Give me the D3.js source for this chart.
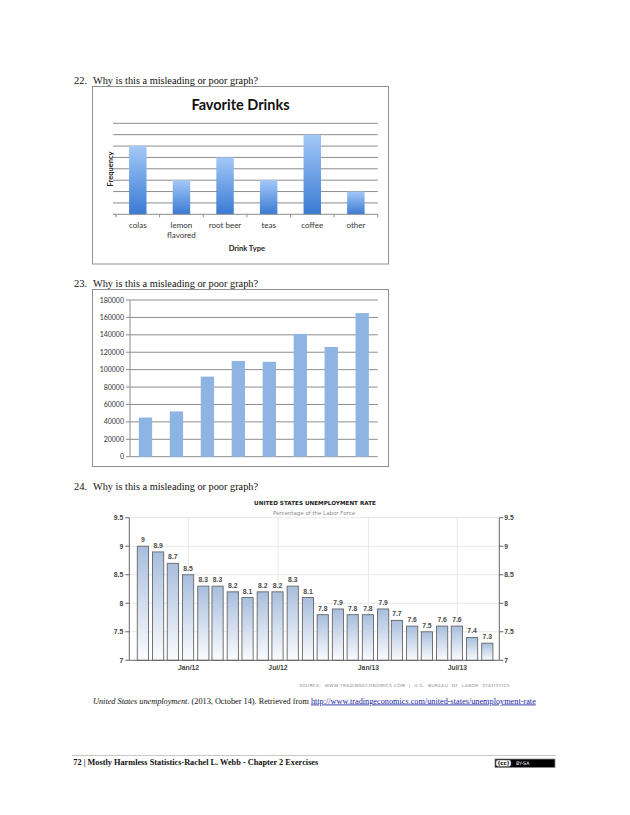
<!DOCTYPE html>
<html>
<head>
<meta charset="utf-8">
<script src="https://cdn.jsdelivr.net/npm/d3@7"></script>
<style>
  html, body { margin: 0; padding: 0; background: #fff; }
  svg { display: block; }
</style>
</head>
<body>
<div id="page"></div>
<script>
// Question 22 - favorite drinks
const drinkTypes = ["colas", "lemon flavored", "root beer", "teas", "coffee", "other"];
const drinkFreq = [6, 3, 5, 3, 7, 2];
const freqGrid = [0, 1, 2, 3, 4, 5, 6, 7, 8];

// Question 23 - unlabeled bars
const q23Values = [45000, 52000, 92000, 110000, 109000, 141000, 126000, 165000];
const q23Ticks = [0, 20000, 40000, 60000, 80000, 100000, 120000, 140000, 160000, 180000];

// Question 24 - US unemployment rate (month, value)
const rateMonths = ["2011-09", "2011-10", "2011-11", "2011-12", "2012-01", "2012-02", "2012-03", "2012-04",
                    "2012-05", "2012-06", "2012-07", "2012-08", "2012-09", "2012-10", "2012-11", "2012-12",
                    "2013-01", "2013-02", "2013-03", "2013-04", "2013-05", "2013-06", "2013-07", "2013-08"];
const rateValues = [9, 8.9, 8.7, 8.5, 8.3, 8.3, 8.2, 8.1, 8.2, 8.2, 8.3, 8.1,
                    7.8, 7.9, 7.8, 7.8, 7.9, 7.7, 7.6, 7.5, 7.6, 7.6, 7.4, 7.3];
const rateTicks = [7, 7.5, 8, 8.5, 9, 9.5];
const rateTickDates = ["2012-01-01", "2012-07-01", "2013-01-01", "2013-07-01"];
const rateTickLabels = ["Jan/12", "Jul/12", "Jan/13", "Jul/13"];

const serif = "'Liberation Serif', 'Times New Roman', serif";
const sans = "Lato, 'Open Sans', sans-serif";

const svg = d3.select("#page").append("svg")
    .attr("width", 630).attr("height", 815);

// Ajusta el tamaño de letra para que el texto ocupe el ancho dado
function fitWidth(sel, width) {
    const w = sel.node().getComputedTextLength();
    const size = parseFloat(sel.style("font-size"));
    if (w > 0) sel.style("font-size", (size * width / w).toFixed(2) + "px");
    return sel;
}

const defs = svg.append("defs");
const g1 = defs.append("linearGradient").attr("id", "grad1").attr("x1", 0).attr("y1", 0).attr("x2", 0).attr("y2", 1);
g1.append("stop").attr("offset", "0%").attr("stop-color", "#a3c8f8");
g1.append("stop").attr("offset", "100%").attr("stop-color", "#3a7ad3");
const g3 = defs.append("linearGradient").attr("id", "grad3").attr("x1", 0).attr("y1", 0).attr("x2", 0).attr("y2", 1);
g3.append("stop").attr("offset", "0%").attr("stop-color", "#a8bedd");
g3.append("stop").attr("offset", "100%").attr("stop-color", "#fbfcfe");

// Texto de las preguntas
function question(num, y) {
    svg.append("text").attr("x", 74).attr("y", y).text(num + ".")
        .style("font-family", serif).style("font-size", "10.5px").attr("fill", "#111");
    const t = svg.append("text").attr("x", 93).attr("y", y).text("Why is this a misleading or poor graph?")
        .style("font-family", serif).style("font-size", "10.5px").attr("fill", "#111");
    fitWidth(t, 165);
}
question(22, 84);
question(23, 287);
question(24, 490);

// ---------- Grafico 1 ----------
svg.append("rect").attr("x", 92.5).attr("y", 86.5).attr("width", 296).attr("height", 177.5)
    .attr("fill", "#fff").attr("stroke", "#8f8f8f");

svg.append("text").attr("x", 240.5).attr("y", 110).attr("text-anchor", "middle")
    .text("Favorite Drinks").style("font-family", sans).style("font-weight", 700)
    .style("font-size", "14.5px").attr("fill", "#111");

const x1 = d3.scaleBand().domain(drinkTypes).range([116, 377.7]).paddingInner(0.6).paddingOuter(0.3);
const y1 = d3.scaleLinear().domain([0, 8]).range([214.3, 123.3]);

svg.append("g").selectAll("line").data(freqGrid.slice(1)).join("line")
    .attr("x1", 116).attr("x2", 377.7)
    .attr("y1", d => y1(d)).attr("y2", d => y1(d))
    .attr("stroke", "#8c8c8c").attr("stroke-width", 1);
svg.append("g").selectAll("line").data(freqGrid).join("line")
    .attr("x1", 113).attr("x2", 116)
    .attr("y1", d => y1(d)).attr("y2", d => y1(d))
    .attr("stroke", "#8c8c8c");

svg.append("g").selectAll("rect").data(drinkTypes).join("rect")
    .attr("x", d => x1(d)).attr("width", x1.bandwidth())
    .attr("y", (d, i) => y1(drinkFreq[i]))
    .attr("height", (d, i) => y1(0) - y1(drinkFreq[i]))
    .attr("fill", "url(#grad1)");

svg.append("line").attr("x1", 116).attr("x2", 377.7).attr("y1", y1(0)).attr("y2", y1(0))
    .attr("stroke", "#8c8c8c");
const bounds1 = d3.range(drinkTypes.length + 1).map(i => 116 + i * x1.step());
svg.append("g").selectAll("line").data(bounds1).join("line")
    .attr("x1", d => d).attr("x2", d => d).attr("y1", y1(0)).attr("y2", y1(0) + 3)
    .attr("stroke", "#8c8c8c");

const xl1 = svg.append("g").selectAll("text").data(drinkTypes).join("text")
    .attr("x", d => x1(d) + x1.bandwidth() / 2).attr("y", 228)
    .attr("text-anchor", "middle")
    .style("font-family", sans).style("font-size", "8px").attr("fill", "#333");
xl1.each(function (d) {
    const words = d === "lemon flavored" ? ["lemon", "flavored"] : [d];
    words.forEach((w, k) => d3.select(this).append("tspan")
        .attr("x", x1(d) + x1.bandwidth() / 2).attr("dy", k === 0 ? 0 : 9.6).text(w));
});

svg.append("text").attr("x", 246.8).attr("y", 250.5).attr("text-anchor", "middle")
    .text("Drink Type").style("font-family", sans).style("font-weight", 700)
    .style("font-size", "7.5px").attr("fill", "#222");
svg.append("text").attr("transform", "translate(113, 169) rotate(-90)").attr("text-anchor", "middle")
    .text("Frequency").style("font-family", sans).style("font-weight", 700)
    .style("font-size", "7.5px").attr("fill", "#222");

// ---------- Grafico 2 ----------
svg.append("rect").attr("x", 92.5).attr("y", 289.5).attr("width", 296).attr("height", 177)
    .attr("fill", "#fff").attr("stroke", "#8f8f8f");

const x2 = d3.scaleBand().domain(d3.range(q23Values.length)).range([130, 377.7]).paddingInner(0.57).paddingOuter(0.285);
const y2 = d3.scaleLinear().domain([0, 180000]).range([456.7, 300]);

svg.append("g").selectAll("line").data(q23Ticks).join("line")
    .attr("x1", 126).attr("x2", 377.7)
    .attr("y1", d => y2(d)).attr("y2", d => y2(d))
    .attr("stroke", "#8c8c8c");
svg.append("line").attr("x1", 130).attr("x2", 130).attr("y1", y2(180000)).attr("y2", y2(0))
    .attr("stroke", "#8c8c8c");
svg.append("g").selectAll("text").data(q23Ticks).join("text")
    .attr("x", 124).attr("y", d => y2(d) + 2.5).attr("text-anchor", "end")
    .text(d => d).style("font-family", sans).style("font-size", "7px").attr("fill", "#333");

svg.append("g").selectAll("rect").data(q23Values).join("rect")
    .attr("x", (d, i) => x2(i)).attr("width", x2.bandwidth())
    .attr("y", d => y2(d)).attr("height", d => y2(0) - y2(d))
    .attr("fill", "#8eb4e3");

// ---------- Grafico 3 ----------
const parseMonth = d3.timeParse("%Y-%m");
const rateDates = rateMonths.map(m => d3.timeDay.offset(d3.timeMonth.offset(parseMonth(m), 1), -1));
const x3 = d3.scaleTime().domain([new Date(2011, 8, 15), new Date(2013, 8, 15)]).range([135.5, 494.7]);
const y3 = d3.scaleLinear().domain([7, 9.5]).range([660.3, 517.7]);
const barW3 = 11.2;
const left3 = 129.3, right3 = 499.3;

const t3 = svg.append("text").attr("x", 315).attr("y", 505).attr("text-anchor", "middle")
    .text("UNITED STATES UNEMPLOYMENT RATE")
    .style("font-family", "'DejaVu Sans', sans-serif").style("font-weight", 700)
    .style("font-size", "6.5px").attr("fill", "#222");
fitWidth(t3, 122);
const st3 = svg.append("text").attr("x", 314).attr("y", 514.5).attr("text-anchor", "middle")
    .text("Percentage of the Labor Force")
    .style("font-family", "'DejaVu Sans', sans-serif").style("font-size", "5.2px").attr("fill", "#8a8a8a");
fitWidth(st3, 82);

// grid
svg.append("g").selectAll("line").data(rateTicks.slice(1)).join("line")
    .attr("x1", left3).attr("x2", right3)
    .attr("y1", d => y3(d)).attr("y2", d => y3(d))
    .attr("stroke", "#e8e8e8");
const tickDates = rateTickDates.map(d3.timeParse("%Y-%m-%d"));
svg.append("g").selectAll("line").data(tickDates).join("line")
    .attr("x1", d => x3(d)).attr("x2", d => x3(d))
    .attr("y1", y3(9.5)).attr("y2", y3(7))
    .attr("stroke", "#e8e8e8");

svg.append("g").selectAll("rect").data(rateValues).join("rect")
    .attr("x", (d, i) => x3(rateDates[i]) - barW3 / 2).attr("width", barW3)
    .attr("y", d => y3(d)).attr("height", d => y3(7) - y3(d))
    .attr("fill", "url(#grad3)").attr("stroke", "#666").attr("stroke-width", 0.9);

svg.append("g").selectAll("text").data(rateValues).join("text")
    .attr("x", (d, i) => x3(rateDates[i])).attr("y", d => y3(d) - 4)
    .attr("text-anchor", "middle").text(d => d)
    .style("font-family", "'Liberation Sans', sans-serif").style("font-weight", 700)
    .style("font-size", "6.8px").attr("fill", "#4a4a4a");

// ejes
const axisColor = "#666";
svg.append("line").attr("x1", left3).attr("x2", left3).attr("y1", y3(9.5)).attr("y2", y3(7)).attr("stroke", axisColor);
svg.append("line").attr("x1", right3).attr("x2", right3).attr("y1", y3(9.5)).attr("y2", y3(7)).attr("stroke", axisColor);
svg.append("line").attr("x1", left3).attr("x2", right3).attr("y1", y3(7)).attr("y2", y3(7)).attr("stroke", axisColor);

svg.append("g").selectAll("line").data(rateTicks).join("line")
    .attr("x1", left3 - 4).attr("x2", left3).attr("y1", d => y3(d)).attr("y2", d => y3(d)).attr("stroke", axisColor);
svg.append("g").selectAll("line").data(rateTicks).join("line")
    .attr("x1", right3).attr("x2", right3 + 4).attr("y1", d => y3(d)).attr("y2", d => y3(d)).attr("stroke", axisColor);

const tickFont = "'Liberation Sans', sans-serif";
svg.append("g").selectAll("text").data(rateTicks).join("text")
    .attr("x", left3 - 6).attr("y", d => y3(d) + 2.3).attr("text-anchor", "end").text(d => d)
    .style("font-family", tickFont).style("font-weight", 700).style("font-size", "6.8px").attr("fill", "#444");
svg.append("g").selectAll("text").data(rateTicks).join("text")
    .attr("x", right3 + 5).attr("y", d => y3(d) + 2.3).attr("text-anchor", "start").text(d => d)
    .style("font-family", tickFont).style("font-weight", 700).style("font-size", "6.8px").attr("fill", "#444");
svg.append("g").selectAll("text").data(tickDates).join("text")
    .attr("x", d => x3(d)).attr("y", 670).attr("text-anchor", "middle").text((d, i) => rateTickLabels[i])
    .style("font-family", tickFont).style("font-weight", 700).style("font-size", "6.8px").attr("fill", "#444");

const src = svg.append("text").attr("x", 510).attr("y", 686.5).attr("text-anchor", "end")
    .text("SOURCE:  WWW.TRADINGECONOMICS.COM  |  U.S.  BUREAU  OF  LABOR  STATISTICS")
    .style("white-space", "pre").style("letter-spacing", "0.4px")
    .style("font-family", "'DejaVu Sans', sans-serif").style("font-size", "4.8px").attr("fill", "#888");
fitWidth(src, 208);

// cita
const cite = svg.append("text").attr("x", 93).attr("y", 703.5)
    .style("font-family", serif).style("font-size", "9.4px").attr("fill", "#111");
cite.append("tspan").style("font-style", "italic").text("United States unemployment");
cite.append("tspan").text(". (2013, October 14). Retrieved from ");
cite.append("tspan").attr("fill", "#1a1aa6").style("text-decoration", "underline")
    .text("http://www.tradingeconomics.com/united-states/unemployment-rate");
fitWidth(cite, 442);

// pie de pagina
svg.append("line").attr("x1", 72).attr("x2", 556).attr("y1", 755.5).attr("y2", 755.5)
    .attr("stroke", "#c8c8c8");
const foot = svg.append("text").attr("x", 73.3).attr("y", 764.5)
    .text("72 | Mostly Harmless Statistics-Rachel L. Webb - Chapter 2 Exercises")
    .style("font-family", serif).style("font-weight", 700).style("font-size", "8.6px").attr("fill", "#111");
fitWidth(foot, 245);

const badge = svg.append("g").attr("transform", "translate(495, 759)");
badge.append("rect").attr("width", 60).attr("height", 8.5).attr("fill", "#000").attr("stroke", "#888").attr("stroke-width", 0.8);
badge.append("rect").attr("x", 1).attr("y", 1).attr("width", 15).attr("height", 6.5).attr("rx", 2)
    .attr("fill", "#fff").attr("stroke", "#555").attr("stroke-width", 0.5);
badge.append("text").attr("x", 8.5).attr("y", 6.4).attr("text-anchor", "middle").text("(cc)")
    .style("font-family", "'DejaVu Sans', sans-serif").style("font-weight", 700).style("font-size", "5.5px").attr("fill", "#000");
badge.append("text").attr("x", 21).attr("y", 6.3).text("BY-SA")
    .style("font-family", "'DejaVu Sans', sans-serif").style("font-size", "4.8px").attr("fill", "#fff");
</script>
</body>
</html>
